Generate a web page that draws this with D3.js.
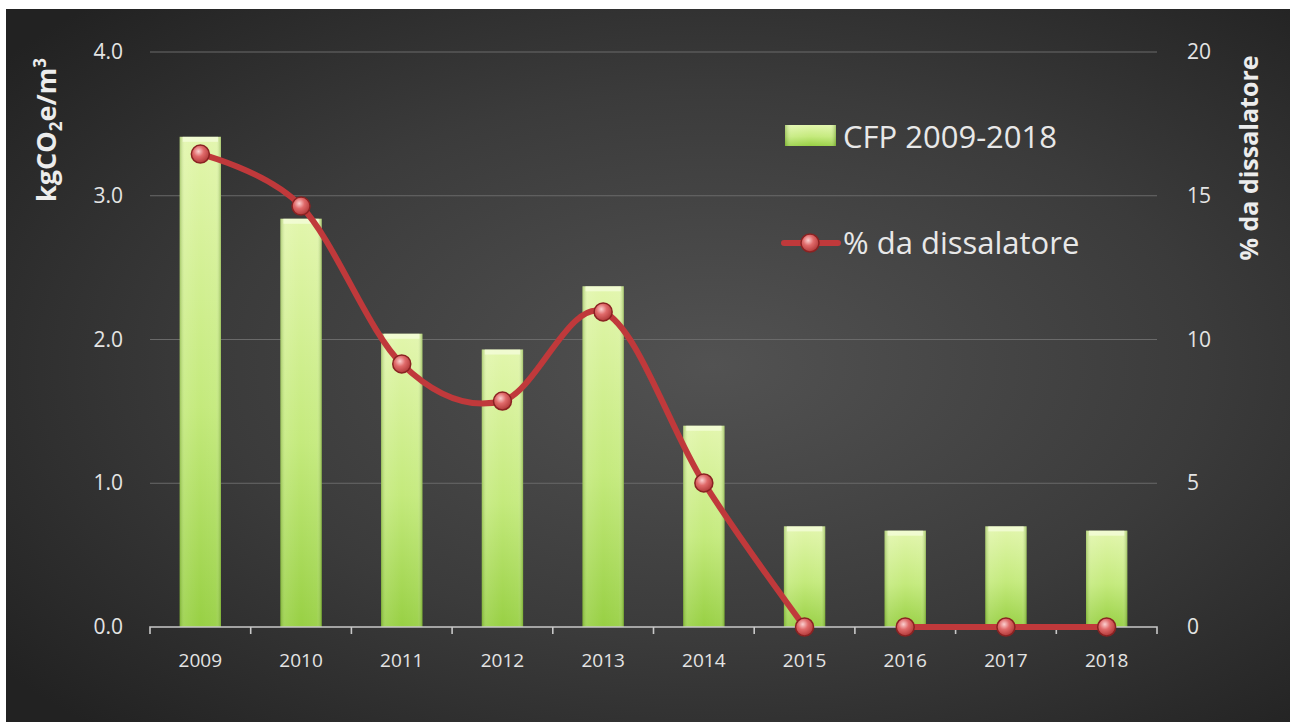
<!DOCTYPE html>
<html>
<head>
<meta charset="utf-8">
<script src="https://cdn.jsdelivr.net/npm/d3@7"></script>
<style>
  html, body { margin: 0; padding: 0; background: #ffffff; }
  svg { display: block; }
  text { font-family: "Open Sans", "Noto Sans", sans-serif; }
</style>
</head>
<body>
<svg id="chart" width="1290" height="722"></svg>
<script>
// Carbon footprint per cubic metre, and share of water from the desalination plant
const years = ["2009", "2010", "2011", "2012", "2013", "2014", "2015", "2016", "2017", "2018"];
const cfpValues = [3.41, 2.84, 2.04, 1.93, 2.37, 1.40, 0.70, 0.67, 0.70, 0.67];
const desalPct = [16.45, 14.64, 9.15, 7.86, 10.96, 5.01, 0, 0, 0, 0];
// the percentage line is drawn as separate runs (no link between 2015 and 2016)
const lineRuns = [["2009", "2015"], ["2016", "2018"]];
const leftTicks = [0, 1, 2, 3, 4];
const rightTicks = [0, 5, 10, 15, 20];
const barLegend = "CFP 2009-2018";
const lineLegend = "% da dissalatore";

const W = 1290, H = 722;
const m = { left: 150, right: 1157, top: 52, bottom: 627 };

const svg = d3.select("#chart");
const defs = svg.append("defs");

// dark panel with soft light in the middle
const bg = defs.append("radialGradient").attr("id", "bgGrad")
  .attr("cx", "55%").attr("cy", "50%").attr("r", "70%");
bg.append("stop").attr("offset", "0%").attr("stop-color", "#525252");
bg.append("stop").attr("offset", "55%").attr("stop-color", "#3b3b3b");
bg.append("stop").attr("offset", "100%").attr("stop-color", "#222222");

// bar fill: pale top fading to lime green
const barV = defs.append("linearGradient").attr("id", "barV")
  .attr("x1", 0).attr("y1", 0).attr("x2", 0).attr("y2", 1);
barV.append("stop").attr("offset", "0%").attr("stop-color", "#e2f6ac");
barV.append("stop").attr("offset", "55%").attr("stop-color", "#c4ea7c");
barV.append("stop").attr("offset", "100%").attr("stop-color", "#98d044");

// bevel shading across the bar width
const barH = defs.append("linearGradient").attr("id", "barH")
  .attr("x1", 0).attr("y1", 0).attr("x2", 1).attr("y2", 0);
barH.append("stop").attr("offset", "0%").attr("stop-color", "#4a7a10").attr("stop-opacity", 0.35);
barH.append("stop").attr("offset", "12%").attr("stop-color", "#ffffff").attr("stop-opacity", 0.10);
barH.append("stop").attr("offset", "50%").attr("stop-color", "#ffffff").attr("stop-opacity", 0.0);
barH.append("stop").attr("offset", "88%").attr("stop-color", "#ffffff").attr("stop-opacity", 0.05);
barH.append("stop").attr("offset", "100%").attr("stop-color", "#4a7a10").attr("stop-opacity", 0.4);

// glossy red marker
const mk = defs.append("radialGradient").attr("id", "mkGrad")
  .attr("cx", "40%").attr("cy", "35%").attr("r", "65%");
mk.append("stop").attr("offset", "0%").attr("stop-color", "#fbd0d0");
mk.append("stop").attr("offset", "45%").attr("stop-color", "#e06a6a");
mk.append("stop").attr("offset", "100%").attr("stop-color", "#b23a3a");

svg.append("rect").attr("width", W).attr("height", H).attr("fill", "#ffffff");
svg.append("rect").attr("x", 6).attr("y", 9).attr("width", W - 6).attr("height", H - 9)
  .attr("fill", "url(#bgGrad)");

const x = d3.scaleBand().domain(years).range([m.left, m.right]).paddingInner(0.59).paddingOuter(0.295);
const band = d3.scaleBand().domain(years).range([m.left, m.right]);
const yL = d3.scaleLinear().domain([0, 4]).range([m.bottom, m.top]);
const yR = d3.scaleLinear().domain([0, 20]).range([m.bottom, m.top]);

// horizontal gridlines
svg.append("g").selectAll("line").data(leftTicks.filter(d => d > 0)).join("line")
  .attr("x1", m.left).attr("x2", m.right)
  .attr("y1", d => yL(d)).attr("y2", d => yL(d))
  .attr("stroke", "#6a6a6a").attr("stroke-width", 1.2);

// bars
const bars = svg.append("g");
bars.selectAll("rect.b").data(years).join("rect").attr("class", "b")
  .attr("x", d => x(d)).attr("width", x.bandwidth())
  .attr("y", (d, i) => yL(cfpValues[i])).attr("height", (d, i) => yL(0) - yL(cfpValues[i]))
  .attr("fill", "url(#barV)");
bars.selectAll("rect.s").data(years).join("rect").attr("class", "s")
  .attr("x", d => x(d)).attr("width", x.bandwidth())
  .attr("y", (d, i) => yL(cfpValues[i])).attr("height", (d, i) => yL(0) - yL(cfpValues[i]))
  .attr("fill", "url(#barH)");
bars.selectAll("rect.t").data(years).join("rect").attr("class", "t")
  .attr("x", d => x(d) + 3).attr("width", x.bandwidth() - 6)
  .attr("y", (d, i) => yL(cfpValues[i])).attr("height", 5)
  .attr("fill", "#f6fde0").attr("opacity", 0.7);

// bottom axis
const xAxis = d3.axisBottom(band).tickSize(0).tickPadding(27);
const gx = svg.append("g").attr("transform", `translate(0,${m.bottom})`).call(xAxis);
gx.select(".domain").attr("stroke", "#c8c8c8").attr("stroke-width", 1.6)
  .attr("d", `M${m.left},7V0H${m.right}V7`);
gx.selectAll(".tick text").attr("fill", "#e4e4e4").attr("font-size", 19);
svg.append("g").selectAll("line").data(years.slice(1)).join("line")
  .attr("x1", d => band(d)).attr("x2", d => band(d))
  .attr("y1", m.bottom).attr("y2", m.bottom + 7)
  .attr("stroke", "#c8c8c8").attr("stroke-width", 1.6);

// left axis labels
const gl = svg.append("g").attr("transform", `translate(${m.left},0)`)
  .call(d3.axisLeft(yL).tickValues(leftTicks).tickFormat(d3.format(".1f")).tickSize(0).tickPadding(27));
gl.select(".domain").remove();
gl.selectAll(".tick text").attr("fill", "#e4e4e4").attr("font-size", 21);

// right axis labels
const gr = svg.append("g").attr("transform", `translate(${m.right},0)`)
  .call(d3.axisRight(yR).tickValues(rightTicks).tickSize(0).tickPadding(30));
gr.select(".domain").remove();
gr.selectAll(".tick text").attr("fill", "#e4e4e4").attr("font-size", 21);

// axis titles
const lt = svg.append("text").attr("transform", "translate(56,130) rotate(-90)")
  .attr("text-anchor", "middle").attr("fill", "#ececec").attr("font-size", 27).attr("font-weight", "bold");
lt.append("tspan").text("kgCO");
lt.append("tspan").attr("font-size", 17).attr("dy", 6).text("2");
lt.append("tspan").attr("dy", -6).text("e/m");
lt.append("tspan").attr("font-size", 17).attr("dy", -10).text("3");

svg.append("text").attr("transform", "translate(1258,158) rotate(-90)")
  .attr("text-anchor", "middle").attr("fill", "#ececec").attr("font-size", 25).attr("font-weight", "bold")
  .text(lineLegend);

// percentage line, smoothed, drawn per run
const cx = d => band(d) + band.bandwidth() / 2;
const line = d3.line().x(d => cx(d)).y(d => yR(desalPct[years.indexOf(d)]))
  .curve(d3.curveCardinal.tension(0));
lineRuns.forEach(([a, b]) => {
  const run = years.slice(years.indexOf(a), years.indexOf(b) + 1);
  svg.append("path").datum(run).attr("d", line)
    .attr("fill", "none").attr("stroke", "#c0393b").attr("stroke-width", 6)
    .attr("stroke-linecap", "round").attr("stroke-linejoin", "round");
});

svg.append("g").selectAll("circle").data(years).join("circle")
  .attr("cx", d => cx(d)).attr("cy", (d, i) => yR(desalPct[i])).attr("r", 9)
  .attr("fill", "url(#mkGrad)").attr("stroke", "#8a2222").attr("stroke-width", 1.5);

// legend
const lg = svg.append("g");
lg.append("rect").attr("x", 785).attr("y", 125).attr("width", 51).attr("height", 21).attr("fill", "url(#barV)");
lg.append("rect").attr("x", 785).attr("y", 125).attr("width", 51).attr("height", 21).attr("fill", "url(#barH)");
lg.append("text").attr("x", 843).attr("y", 148).attr("fill", "#e8e8e8").attr("font-size", 31).text(barLegend);

lg.append("line").attr("x1", 784).attr("x2", 838).attr("y1", 243).attr("y2", 243)
  .attr("stroke", "#c0393b").attr("stroke-width", 6).attr("stroke-linecap", "round");
lg.append("circle").attr("cx", 810).attr("cy", 243).attr("r", 9)
  .attr("fill", "url(#mkGrad)").attr("stroke", "#8a2222").attr("stroke-width", 1.5);
lg.append("text").attr("x", 843).attr("y", 254).attr("fill", "#e8e8e8").attr("font-size", 31).text(lineLegend);
</script>
</body>
</html>
